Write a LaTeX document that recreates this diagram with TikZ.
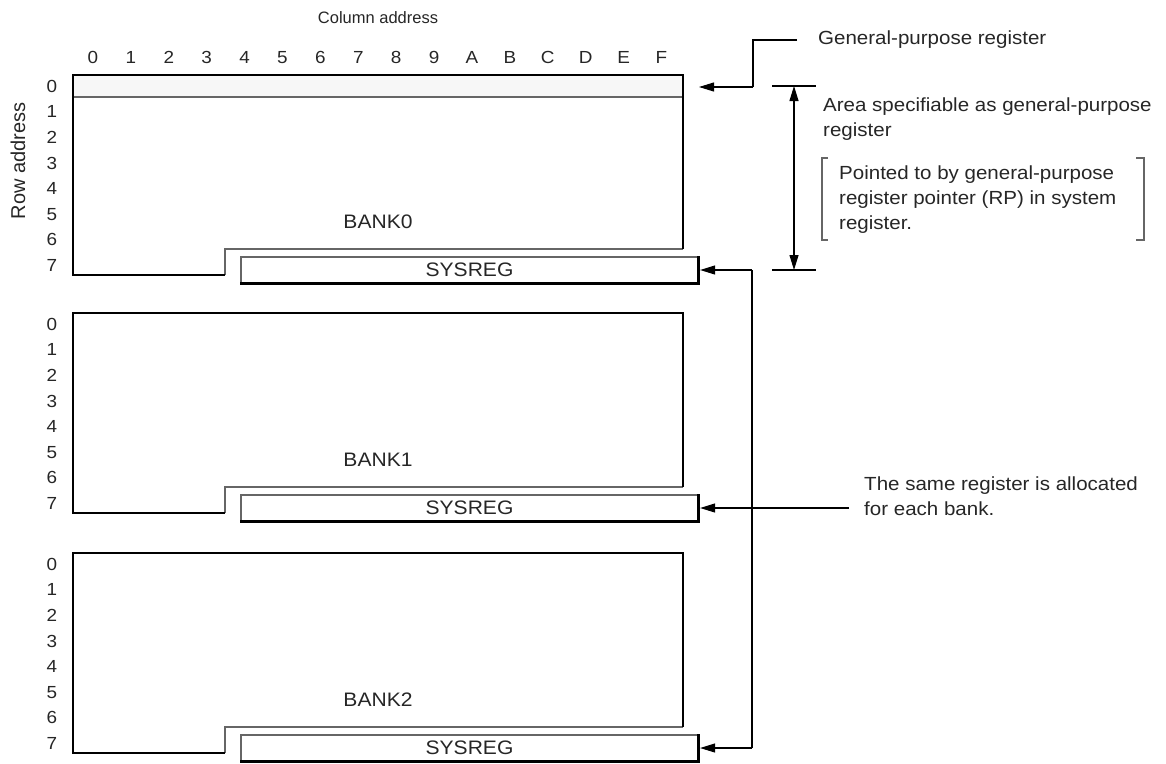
\documentclass[tikz,border=0pt]{standalone}
\usepackage{fontspec}
\setmainfont{Liberation Sans}
\newfontfamily\notefont[FakeStretch=1.08]{Liberation Sans}
\usetikzlibrary{arrows.meta}
\begin{document}
\begin{tikzpicture}[x=1pt,y=-1pt,
  lab/.style={font=\notefont\fontsize{17.5}{20}\selectfont, text=black!85, inner sep=0pt, text height=12.6pt, text depth=0pt},
  head/.style={text=black!85, inner sep=0pt},
  big/.style={font=\notefont\fontsize{19.5}{22}\selectfont, text=black!85, inner sep=0pt},
  note/.style={font=\notefont\fontsize{19}{25}\selectfont, text=black!85, inner sep=0pt, anchor=west, align=left},
  outer/.style={line width=2.6pt, line join=miter, black},
  inner/.style={line width=1.2pt, black!60},
  thin/.style={line width=1.1pt, black},
  arr/.style={thin, -{Triangle[length=15pt,width=9pt]}},
  dim/.style={thin, {Triangle[length=15pt,width=9pt]}-{Triangle[length=15pt,width=9pt]}},
  sysbox/.style={draw=black!60, line width=1.2pt, minimum width=457pt, minimum height=26pt, inner sep=0pt, font=\notefont\fontsize{19.5}{22}\selectfont, text=black!85}
]
\useasboundingbox (0,0) rectangle (1166,763);

% headings
\node[head, font=\fontsize{16.5}{20}\selectfont] (coladdr) at (378,18) {Column address};
\node[head, font=\fontsize{20}{22}\selectfont, rotate=90] (rowaddr) at (18,161) {Row address};
\foreach \c [count=\i from 0] in {0,1,2,3,4,5,6,7,8,9,A,B,C,D,E,F}
  \node[lab] (col\i) at ({93+37.9*\i},57) {\c};

% row 0 band of bank 0
\fill[black!3] (73,75) rectangle (683,97);
\draw[inner] (73,97) -- (683,97);

% banks
\foreach \b/\t in {0/75,1/313,2/553}{
  \foreach \r in {0,...,7}
    \node[lab] (row\b\r) at (52,{\t+11+25.6*\r}) {\r};
  \draw[inner] (683,\t+174) -- (225,\t+174) -- (225,\t+200);
  \draw[outer] (225,\t+200) -- (73,\t+200) -- (73,\t) -- (683,\t) -- (683,\t+174);
  \node[big] (bank\b) at (378,\t+147) {BANK\b};
  \node[sysbox] (sys\b) at (469.5,\t+195) {SYSREG};
  \draw[outer] (sys\b.north east) -- (sys\b.south east) -- (sys\b.south west);
}

% general-purpose register pointer
\node[note] (gpr) at (818,40) {General-purpose register};
\coordinate (gpc) at (797,40);
\coordinate (gpbend) at (753,87);
\coordinate (gptip) at (699,87);
\draw[thin] (gpc) -| (gpbend);
\draw[arr] (gpbend) -- (gptip);

% dimension
\coordinate (dimT) at (794,86);
\coordinate (dimB) at (794,270);
\draw[thin] (772,86) coordinate (tTl) -- (816,86) coordinate (tTr);
\draw[thin] (772,270) coordinate (tBl) -- (816,270) coordinate (tBr);
\draw[dim] (dimT) -- (dimB);

\node[note] (area) at (823,119) {Area specifiable as general-purpose\\register};
\node[note] (ptd) at (839,200) {Pointed to by general-purpose\\register pointer (RP) in system\\register.};
\draw[inner] (828,158) -- (822,158) -- (822,240) -- (828,240);
\draw[inner] (1136,158) -- (1144,158) -- (1144,240) -- (1136,240);

% SYSREG bus
\coordinate (bus0) at (752,270);
\coordinate (bus2) at (752,748);
\coordinate (same) at (849,508);
\draw[thin] (bus0) -- (bus2);
\draw[arr] (bus0) -- ([xshift=1.5pt]sys0.east);
\draw[arr] (bus2) -- ([xshift=1.5pt]sys2.east);
\draw[arr] (same) -- ([xshift=1.5pt]sys1.east);
\node[note] (samet) at (864,496) {The same register is allocated\\for each bank.};
\end{tikzpicture}
\end{document}
